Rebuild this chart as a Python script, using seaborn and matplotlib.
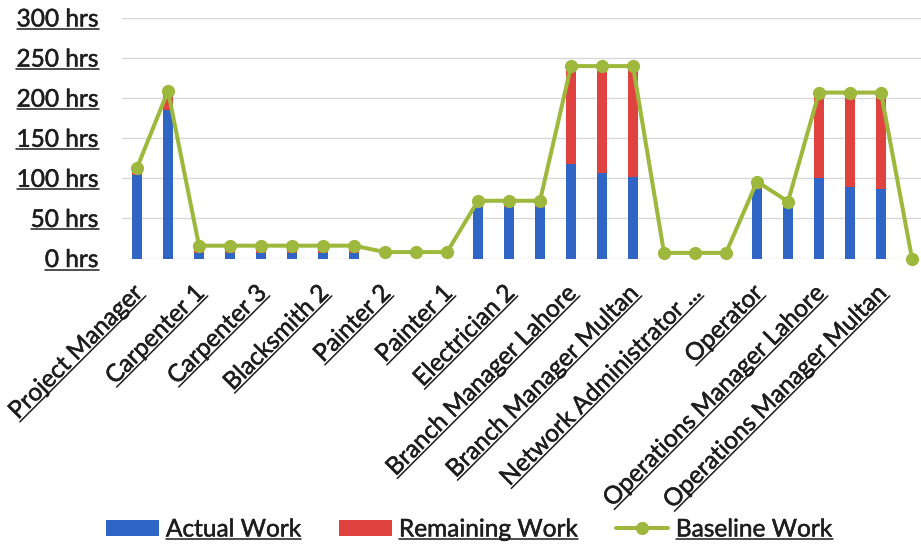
import numpy as np
import pandas as pd
import matplotlib
matplotlib.use("Agg")
import matplotlib.pyplot as plt
import matplotlib.transforms as mtransforms
import matplotlib.patheffects as pe
from matplotlib.lines import Line2D
from matplotlib.patches import Patch
import seaborn as sns

# Resources (every other name is printed on the axis)
roles = [
    "Project Manager", "Site Engineer", "Carpenter 1", "Carpenter 2",
    "Carpenter 3", "Blacksmith 1", "Blacksmith 2", "Blacksmith 3",
    "Painter 2", "Painter 3", "Painter 1", "Electrician 1",
    "Electrician 2", "Electrician 3", "Branch Manager Lahore",
    "Branch Manager Karachi", "Branch Manager Multan",
    "Network Administrator Lahore", "Network Administrator ...",
    "Network Administrator Karachi", "Operator", "Operator Assistant",
    "Operations Manager Lahore", "Operations Manager Karachi",
    "Operations Manager Multan", "Consultant",
]
actual_work = [104, 185, 7, 7, 7, 7, 7, 7, 0, 0, 0, 64, 64, 64,
               118, 107, 102, 0, 0, 0, 87, 63, 100, 89, 87, 0]
remaining_work = [9, 24, 9, 9, 9, 9, 9, 9, 0, 0, 0, 8, 8, 8,
                  122, 133, 138, 0, 0, 0, 8, 8, 107, 119, 121, 0]
baseline_work = [113, 209, 16, 16, 16, 16, 16, 16, 8, 8, 8, 72, 72, 72,
                 240, 240, 240, 7, 7, 7, 96, 71, 207, 207, 207, 0]
hour_ticks = [0, 50, 100, 150, 200, 250, 300]
hour_labels = [f"{h} hrs" for h in hour_ticks]

BLUE = "#2F66C6"
RED = "#E0433F"
GREEN = "#9DB83C"
INK = "#1e1e1e"
FS = 17.6
BOLDEN = [pe.withStroke(linewidth=0.35, foreground=INK)]

sns.set_style("white")
plt.rcParams["font.family"] = ["Lato", "DejaVu Sans"]
plt.rcParams["font.size"] = FS
plt.rcParams["text.color"] = INK

df = pd.DataFrame({
    "role": roles,
    "actual": actual_work,
    "total": np.add(actual_work, remaining_work),
    "baseline": baseline_work,
    "pos": np.arange(len(roles)),
})

fig = plt.figure(figsize=(9.21, 5.47), dpi=100)
ax = fig.add_axes([121.5 / 921, (547 - 258.5) / 547, 806 / 921, 240.5 / 547])

# Stacked bars: full height in red, actual part in blue on top of it
sns.barplot(data=df, x="role", y="total", order=roles, color=RED,
            width=0.3, saturation=1, linewidth=0, ax=ax)
sns.barplot(data=df, x="role", y="actual", order=roles, color=BLUE,
            width=0.3, saturation=1, linewidth=0, ax=ax)
sns.lineplot(data=df, x="pos", y="baseline", color=GREEN, lw=2.9,
             marker="o", markersize=9.5, markeredgewidth=0,
             markeredgecolor=GREEN, clip_on=False, zorder=4, ax=ax)

ax.set_xlim(-0.5, len(roles) - 0.5)
ax.set_ylim(0, 300)
ax.set_yticks(hour_ticks, hour_labels)
ax.set_xticks(np.arange(0, len(roles), 2), roles[::2])
ax.set_xlabel("")
ax.set_ylabel("")
ax.yaxis.grid(True, color="#d6d6d6", lw=0.9)
ax.xaxis.grid(False)
ax.set_axisbelow(True)
for s in ax.spines.values():
    s.set_visible(False)
ax.tick_params(axis="y", length=0, pad=16.5, labelsize=FS, labelcolor=INK)
ax.tick_params(axis="x", length=0, pad=17, labelsize=FS, labelcolor=INK)

shift = mtransforms.ScaledTranslation(-0.05, 0, fig.dpi_scale_trans)
for lbl in ax.get_xticklabels():
    lbl.set_rotation(45)
    lbl.set_rotation_mode("anchor")
    lbl.set_ha("right")
    lbl.set_va("top")
    lbl.set_transform(lbl.get_transform() + shift)
    lbl.set_path_effects(BOLDEN)
for lbl in ax.get_yticklabels():
    lbl.set_path_effects(BOLDEN)

handles = [
    Patch(facecolor=BLUE, edgecolor="none"),
    Patch(facecolor=RED, edgecolor="none"),
    Line2D([], [], color=GREEN, lw=2.9, marker="o", markersize=9.5,
           markeredgewidth=0),
]
leg = fig.legend(handles, ["Actual Work", "Remaining Work", "Baseline Work"],
                 loc="center left", bbox_to_anchor=(106 / 921, 1 - 530 / 547),
                 ncol=3, frameon=False, fontsize=FS, handlelength=2.15,
                 handleheight=0.6, handletextpad=0.3, columnspacing=1.55,
                 borderpad=0, borderaxespad=0, numpoints=1)
for t in leg.get_texts():
    t.set_path_effects(BOLDEN)

# Underline every label
fig.canvas.draw()
renderer = fig.canvas.get_renderer()
GAP = 2.5


def metrics(t):
    prop = t.get_fontproperties()
    w, h, d = renderer.get_text_width_height_descent(t.get_text(), prop, ismath=False)
    _, lh, ld = renderer.get_text_width_height_descent("lp", prop, ismath=False)
    return w, max(h, lh), max(d, ld)


def underline_flat(t):
    if not t.get_text() or not t.get_visible():
        return
    _, _, d = metrics(t)
    bb = t.get_window_extent(renderer)
    y = bb.y0 + d - GAP
    fig.add_artist(Line2D([bb.x0, bb.x1], [y, y], color=INK, lw=1.1,
                          transform=mtransforms.IdentityTransform()))


def underline_rotated(t):
    if not t.get_text() or not t.get_visible():
        return
    w, h, d = metrics(t)
    ax0, ay0 = t.get_transform().transform(t.get_position())
    th = np.deg2rad(t.get_rotation())
    c, s = np.cos(th), np.sin(th)
    yy = -(h - d) - GAP
    pts = [(-w, yy), (0, yy)]
    xs = [ax0 + px * c - py * s for px, py in pts]
    ys = [ay0 + px * s + py * c for px, py in pts]
    fig.add_artist(Line2D(xs, ys, color=INK, lw=1.1,
                          transform=mtransforms.IdentityTransform()))


for t in ax.get_yticklabels():
    underline_flat(t)
for t in leg.get_texts():
    underline_flat(t)
for t in ax.get_xticklabels():
    underline_rotated(t)

fig.savefig("out.png", dpi=100)
